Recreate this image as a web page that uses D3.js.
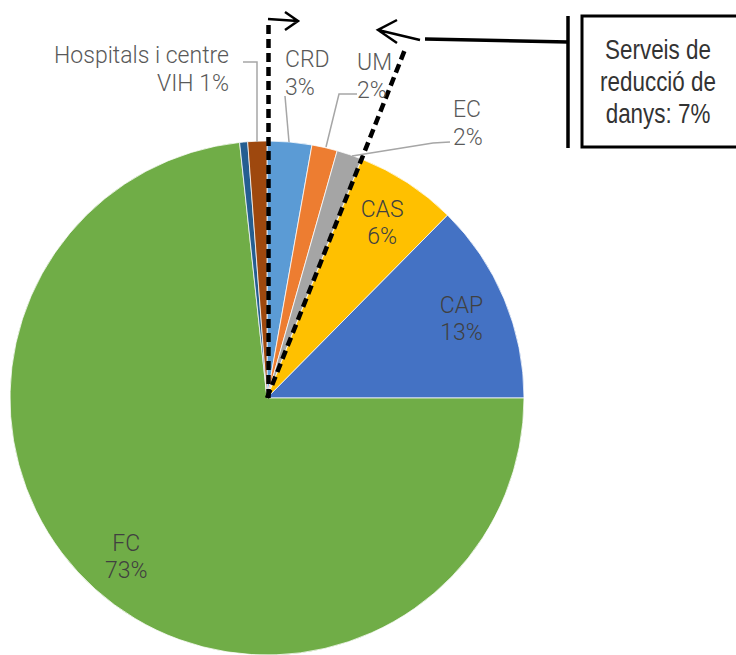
<!DOCTYPE html>
<html>
<head>
<meta charset="utf-8">
<script src="https://cdn.jsdelivr.net/npm/d3@7"></script>
<style>
  html, body { margin: 0; padding: 0; background: #fff; }
  svg { display: block; font-family: Roboto, "Liberation Sans", sans-serif; }
</style>
</head>
<body>
<div id="chart"></div>
<script>
//chart data (clockwise from 12 o'clock)
var categories = ['CRD', 'UM', 'EC', 'CAS', 'CAP', 'FC', 'Altres', 'Hospitals i centre VIH'];
var values = [2.8, 1.6, 1.6, 6.4, 12.6, 73.3, 0.5, 1.2];
var colors = ['#5B9BD5', '#ED7D31', '#A5A5A5', '#FFC000', '#4472C4', '#70AD47', '#255E91', '#9E480E'];
//categories grouped under the callout box
var harmReduction = ['CRD', 'UM', 'EC'];
var calloutLines = ['Serveis de', 'reducció de', 'danys: 7%'];

var width = 736, height = 655,
    cx = 267, cy = 398, radius = 257;

var svg = d3.select('#chart').append('svg')
    .attr('width', width)
    .attr('height', height);

var data = categories.map(function (c, i) { return { name: c, value: values[i], color: colors[i] }; });

var pie = d3.pie().sort(null).value(function (d) { return d.value; }),
    arcs = pie(data),
    arc = d3.arc().innerRadius(0).outerRadius(radius);

var chartG = svg.append('g').attr('transform', 'translate(' + cx + ',' + cy + ')');

//slices
chartG.selectAll('path.slice')
    .data(arcs)
    .enter().append('path')
    .attr('class', 'slice')
    .attr('d', arc)
    .attr('fill', function (d) { return d.data.color; })
    .attr('stroke', '#fff')
    .attr('stroke-width', 0.75);

function pct(v) { return Math.round(v) + '%'; }

//inside labels along the slice mid angle
var inside = ['CAS', 'CAP', 'FC'];
var labelArc = d3.arc().innerRadius(radius * 0.82).outerRadius(radius * 0.82);
var insideG = chartG.selectAll('g.inlabel')
    .data(arcs.filter(function (d) { return inside.indexOf(d.data.name) >= 0; }))
    .enter().append('g')
    .attr('class', 'inlabel')
    .attr('transform', function (d) { return 'translate(' + labelArc.centroid(d) + ')'; });
insideG.append('text')
    .attr('text-anchor', 'middle')
    .attr('y', -4)
    .attr('fill', '#404040')
    .style('font-size', '23px').style('font-weight', 300)
    .text(function (d) { return d.data.name; });
insideG.append('text')
    .attr('text-anchor', 'middle')
    .attr('y', 23)
    .attr('fill', '#404040')
    .style('font-size', '23px').style('font-weight', 300)
    .text(function (d) { return pct(d.data.value); });

//outside labels: text anchor position and leader points (absolute px)
var outside = {
    'CRD': { x: 285, y: 67, anchor: 'start', leader: [[285, 96], [289, 142]] },
    'UM': { x: 357, y: 70, anchor: 'start', leader: [[357, 94], [339, 94], [326, 147]] },
    'EC': { x: 453, y: 117, anchor: 'start', leader: [[450, 142], [433, 143], [352, 156]] },
    'Hospitals i centre VIH': { x: 229, y: 63, anchor: 'end', lines: ['Hospitals i centre', 'VIH 1%'], leader: [[243, 62], [257, 62], [257, 142]] }
};

var outG = svg.append('g');
arcs.forEach(function (d) {
    var o = outside[d.data.name];
    if (!o) return;
    var lines = o.lines || [d.data.name, pct(d.data.value)];
    outG.append('path')
        .attr('d', d3.line()(o.leader))
        .attr('fill', 'none')
        .attr('stroke', '#a6a6a6')
        .attr('stroke-width', 1.5);
    lines.forEach(function (t, i) {
        outG.append('text')
            .attr('x', o.x)
            .attr('y', o.y + i * 28)
            .attr('text-anchor', o.anchor)
            .attr('fill', '#595959')
            .style('font-size', '23px').style('font-weight', 300)
            .text(t);
    });
});

//dashed bracket lines around harm reduction services
var group = arcs.filter(function (d) { return harmReduction.indexOf(d.data.name) >= 0; }),
    a0 = d3.min(group, function (d) { return d.startAngle; }),
    a1 = d3.max(group, function (d) { return d.endAngle; });

function polar(a, r) { return [Math.sin(a) * r, -Math.cos(a) * r]; }

[[a0, 378, 1.5], [a1, 376, 0]].forEach(function (p) {
    chartG.append('path')
        .attr('transform', 'translate(' + p[2] + ',0)')
        .attr('d', d3.line()([[0, 0], polar(p[0], p[1])]))
        .attr('stroke', '#000')
        .attr('stroke-width', 4.5)
        .attr('stroke-dasharray', '9,5');
});

//arrows
var arrowG = svg.append('g').attr('fill', 'none').attr('stroke', '#000').attr('stroke-width', 2.5);
arrowG.append('path').attr('d', 'M268,19L298,21M285,12L298,21L285,30');
arrowG.append('path').attr('d', 'M378,30L420,40M397,20L378,30L397,43');
arrowG.append('path').attr('d', 'M425,39L568,42').attr('stroke-width', 3.5);
arrowG.append('path').attr('d', 'M568,16L568,148').attr('stroke-width', 3.5);

//callout box
svg.append('rect')
    .attr('x', 582).attr('y', 16)
    .attr('width', 180).attr('height', 131)
    .attr('fill', '#fff')
    .attr('stroke', '#000')
    .attr('stroke-width', 3);

//narrow text: no condensed font installed, so squeeze a regular one
calloutLines.forEach(function (t, i) {
    svg.append('text')
        .attr('transform', 'translate(658,' + (59 + i * 32) + ') scale(0.83,1)')
        .attr('text-anchor', 'middle')
        .attr('fill', '#333')
        .style('font-family', '"Liberation Sans", Arial, sans-serif')
        .style('font-size', '27px')
        .text(t);
});
</script>
</body>
</html>
